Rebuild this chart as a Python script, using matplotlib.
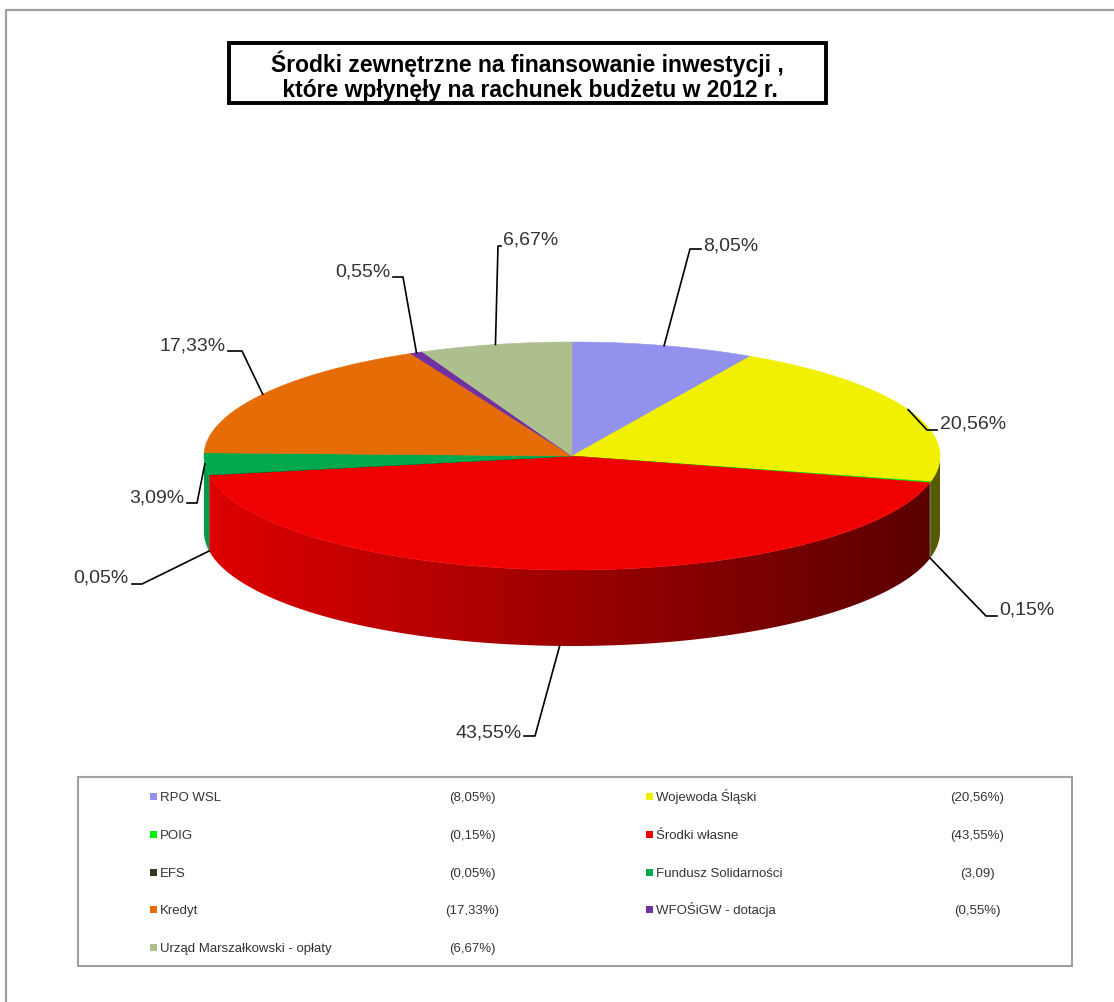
import numpy as np
import matplotlib
matplotlib.use('Agg')
import matplotlib.pyplot as plt
from matplotlib.patches import Polygon, Rectangle
from matplotlib.colors import to_rgb

plt.rcParams['font.family'] = ['Liberation Sans', 'DejaVu Sans']

# chart data (clockwise from 12 o'clock)
names = ['RPO WSL', 'Wojewoda Śląski', 'POIG', 'Środki własne', 'EFS',
         'Fundusz Solidarności', 'Kredyt', 'WFOŚiGW - dotacja',
         'Urząd Marszałkowski - opłaty']
shares = [8.05, 20.56, 0.15, 43.55, 0.05, 3.09, 17.33, 0.55, 6.67]
slice_labels = ['8,05%', '20,56%', '0,15%', '43,55%', '0,05%',
                '3,09%', '17,33%', '0,55%', '6,67%']
legend_values = ['(8,05%)', '(20,56%)', '(0,15%)', '(43,55%)', '(0,05%)',
                 '(3,09)', '(17,33%)', '(0,55%)', '(6,67%)']
colors = ['#9292EE', '#F0F000', '#00F000', '#F00000', '#3A3422',
          '#00A84E', '#E66C08', '#7030A0', '#AEBF8E']

title = 'Środki zewnętrzne na finansowanie inwestycji ,\n które wpłynęły na rachunek budżetu w 2012 r.'

# layout (pixel coordinates, y down)
W, H = 1114, 1003
cx, cy, rx, ry, depth = 572, 457, 368, 114, 76

# leader lines: anchor on side bottom?, elbow, horizontal end, text pos, alignment
on_side = [False, False, True, True, True, False, False, False, False]
elbows = [(690, 250), (927, 431), (986, 617), (535, 737), (142, 585),
          (197, 504), (242, 352), (403, 278), (498, 247)]
h_ends = [(701, 250), (937, 431), (997, 617), (524, 737), (132, 585),
          (187, 504), (228, 352), (393, 278), (501, 247)]
text_pos = [(703, 246), (940, 424), (999, 610), (522, 733), (129, 578),
            (184, 498), (226, 346), (391, 272), (503, 240)]
text_ha = ['left', 'left', 'left', 'right', 'right', 'right', 'right', 'right', 'left']


def rim(t):
    """ point on top rim for angle t (degrees, clockwise from top) """
    r = np.radians(t)
    return cx + rx * np.sin(r), cy - ry * np.cos(r)


fig = plt.figure(figsize=(W / 100, H / 100), dpi=100)
ax = fig.add_axes([0, 0, 1, 1])
ax.axis('off')

# outer frame (left and top edges only)
ax.plot([6, 6, W], [H, 11, 11], color='#A0A0A0', lw=1.6, solid_joinstyle='miter')

bounds = np.concatenate(([0], np.cumsum(shares))) / 100.0 * 360.0

# side walls of the front half, shaded left (light) to right (dark)
u = np.linspace(0, 1, 400)
shade = 0.93 - 0.56 * u
for i in range(len(shares)):
    a0, a1 = max(bounds[i], 90), min(bounds[i + 1], 270)
    if a1 <= a0:
        continue
    ts = np.linspace(a0, a1, max(3, int((a1 - a0) * 2)))
    top = [rim(t) for t in ts]
    bottom = [(x, y + depth) for x, y in top[::-1]]
    wall = Polygon(top + bottom, closed=True, facecolor='none', edgecolor='none')
    ax.add_patch(wall)
    base = np.array(to_rgb(colors[i]))
    img = np.clip(shade[None, :, None] * base[None, None, :], 0, 1)
    im = ax.imshow(img, extent=(cx - rx, cx + rx, cy + ry + depth + 2, cy - 2),
                   aspect='auto', interpolation='bilinear', zorder=1)
    im.set_clip_path(wall)

# top face
for i in range(len(shares)):
    ts = np.linspace(bounds[i], bounds[i + 1], max(3, int(bounds[i + 1] - bounds[i]) * 2))
    pts = [(cx, cy)] + [rim(t) for t in ts]
    ax.add_patch(Polygon(pts, closed=True, facecolor=colors[i],
                         edgecolor=colors[i], lw=0.4, zorder=2))

# leader lines and percentage labels
for i in range(len(shares)):
    mid = (bounds[i] + bounds[i + 1]) / 2
    x0, y0 = rim(mid)
    if on_side[i]:
        y0 += depth
    ex, ey = elbows[i]
    hx, hy = h_ends[i]
    ax.plot([x0, ex, hx], [y0, ey, hy], color='black', lw=1.2, zorder=3)
    ax.text(text_pos[i][0], text_pos[i][1], slice_labels[i], ha=text_ha[i],
            va='center', fontsize=14, color='#333333')

# title box
ax.add_patch(Rectangle((229, 44), 597, 60, facecolor='white',
                       edgecolor='black', lw=2.8))
ax.text(527, 76, title, ha='center', va='center', fontsize=16.5,
        fontweight='bold', color='black', linespacing=1.1)

# legend
ax.add_patch(Rectangle((78, 778), 994, 189, facecolor='white',
                       edgecolor='#A0A0A0', lw=1.5))
row_y = [797, 835, 873, 910, 948]
col_sq = [150, 646]
col_val = [472, 977]
for i, name in enumerate(names):
    r, c = divmod(i, 2)
    y = row_y[r]
    ax.add_patch(Rectangle((col_sq[c], y - 3.5), 7, 7, facecolor=colors[i],
                           edgecolor='none'))
    ax.text(col_sq[c] + 10, y + 4.5, name, ha='left', va='baseline',
            fontsize=9.5, color='#333333')
    ax.text(col_val[c], y + 4.5, legend_values[i], ha='center', va='baseline',
            fontsize=9.5, color='#333333')

ax.set_xlim(0, W)
ax.set_ylim(H, 0)
fig.savefig('out.png', dpi=100)
